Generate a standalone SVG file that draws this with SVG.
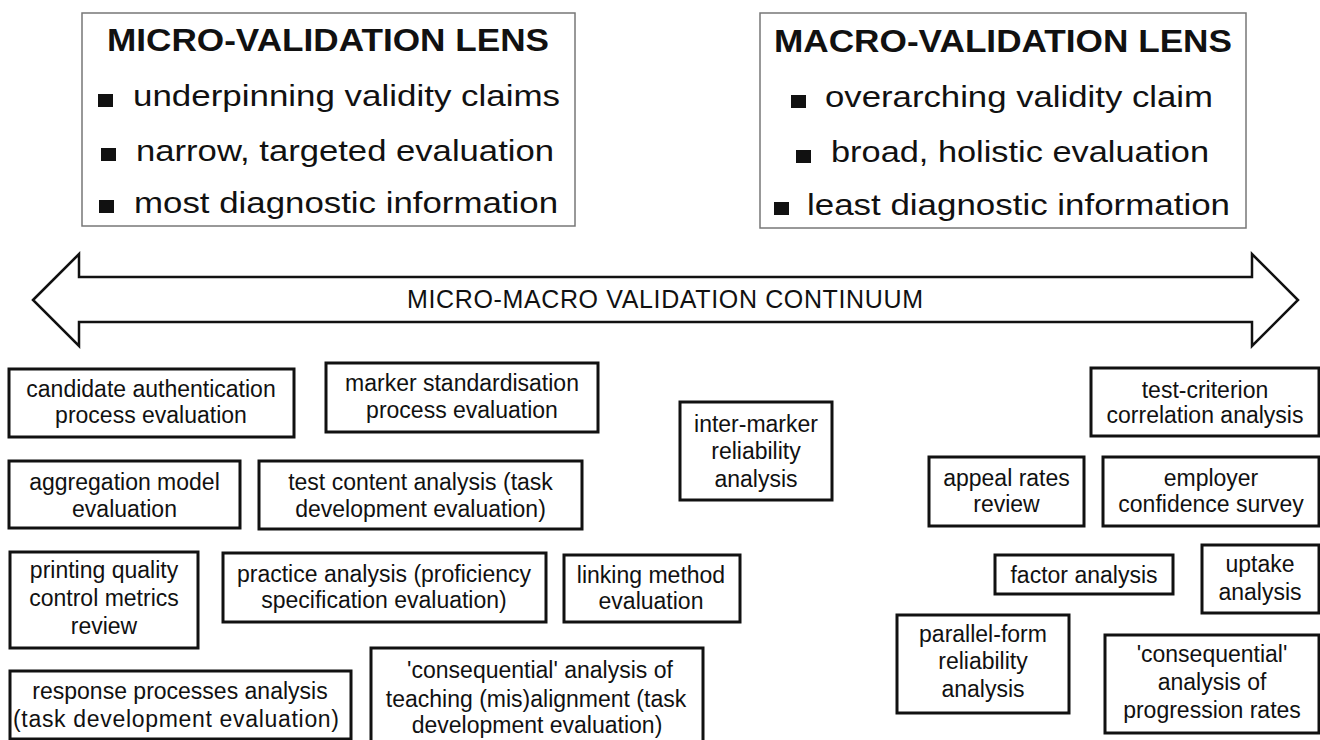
<svg xmlns="http://www.w3.org/2000/svg" width="1320" height="740" viewBox="0 0 1320 740">
<style>
.lens{fill:#fff;stroke:#777;stroke-width:1.5}
.box{fill:#fff;stroke:#111;stroke-width:3}
.t{font-family:"Liberation Sans",Arial,sans-serif;fill:#111}
.title{font-size:31px;font-weight:bold}
.bul{font-size:30px}
.lbl{font-size:23px;text-anchor:middle}
.sq{fill:#111}
.arrow{fill:#fff;stroke:#111;stroke-width:2.5;stroke-linejoin:miter}
</style>
<rect width="1320" height="740" fill="#fff"/>

<g id="micro-lens">
<rect class="lens" x="82" y="13" width="493" height="213"/>
<text class="t title" x="107" y="51" textLength="442" lengthAdjust="spacingAndGlyphs">MICRO-VALIDATION LENS</text>
<rect class="sq" x="98" y="94" width="15" height="13"/>
<text class="t bul" x="133" y="106" textLength="427" lengthAdjust="spacingAndGlyphs">underpinning validity claims</text>
<rect class="sq" x="101" y="148" width="15" height="13"/>
<text class="t bul" x="136" y="161" textLength="418" lengthAdjust="spacingAndGlyphs">narrow, targeted evaluation</text>
<rect class="sq" x="99" y="200" width="15" height="13"/>
<text class="t bul" x="134" y="213" textLength="424" lengthAdjust="spacingAndGlyphs">most diagnostic information</text>
</g>

<g id="macro-lens">
<rect class="lens" x="760" y="13" width="486" height="215"/>
<text class="t title" x="774" y="52" textLength="458" lengthAdjust="spacingAndGlyphs">MACRO-VALIDATION LENS</text>
<rect class="sq" x="791" y="95" width="15" height="13"/>
<text class="t bul" x="825" y="107" textLength="388" lengthAdjust="spacingAndGlyphs">overarching validity claim</text>
<rect class="sq" x="796" y="150" width="15" height="13"/>
<text class="t bul" x="831" y="162" textLength="378" lengthAdjust="spacingAndGlyphs">broad, holistic evaluation</text>
<rect class="sq" x="774" y="202" width="15" height="13"/>
<text class="t bul" x="807" y="215" textLength="423" lengthAdjust="spacingAndGlyphs">least diagnostic information</text>
</g>

<g id="connectors">
<polygon class="arrow" points="33,300 79,254 79,277 1252,277 1252,254 1298,300 1252,346 1252,322 79,322 79,346"/>
<text class="t" x="407" y="308" font-size="25" textLength="516" lengthAdjust="spacing" fill="#222">MICRO-MACRO VALIDATION CONTINUUM</text>
</g>

<g id="candidate">
<rect class="box" x="9" y="369" width="285" height="68"/>
<text class="t lbl" x="151" y="397">candidate authentication</text>
<text class="t lbl" x="151" y="423">process evaluation</text>
</g>
<g id="marker">
<rect class="box" x="326" y="363" width="272" height="69"/>
<text class="t lbl" x="462" y="391">marker standardisation</text>
<text class="t lbl" x="462" y="418">process evaluation</text>
</g>
<g id="aggregation">
<rect class="box" x="9" y="461" width="231" height="67"/>
<text class="t lbl" x="124.5" y="490">aggregation model</text>
<text class="t lbl" x="124.5" y="517">evaluation</text>
</g>
<g id="test-content">
<rect class="box" x="259" y="461" width="323" height="68"/>
<text class="t lbl" x="420.5" y="490">test content analysis (task</text>
<text class="t lbl" x="420.5" y="517">development evaluation)</text>
</g>
<g id="printing">
<rect class="box" x="10" y="552" width="188" height="96"/>
<text class="t lbl" x="104" y="578">printing quality</text>
<text class="t lbl" x="104" y="606">control metrics</text>
<text class="t lbl" x="104" y="634">review</text>
</g>
<g id="practice">
<rect class="box" x="223" y="553" width="323" height="69"/>
<text class="t lbl" x="384" y="582">practice analysis (proficiency</text>
<text class="t lbl" x="384" y="608">specification evaluation)</text>
</g>
<g id="linking">
<rect class="box" x="564" y="555" width="176" height="67"/>
<text class="t lbl" x="651" y="583">linking method</text>
<text class="t lbl" x="651" y="609">evaluation</text>
</g>
<g id="response">
<rect class="box" x="10" y="671" width="341" height="68"/>
<text class="t lbl" x="180" y="699">response processes analysis</text>
<text class="t lbl" x="176" y="727" textLength="326" lengthAdjust="spacing">(task development evaluation)</text>
</g>
<g id="consequential-teaching">
<rect class="box" x="371" y="648" width="332" height="100"/>
<text class="t lbl" x="540" y="678">'consequential' analysis of</text>
<text class="t lbl" x="536" y="707">teaching (mis)alignment (task</text>
<text class="t lbl" x="537" y="733">development evaluation)</text>
</g>
<g id="inter-marker">
<rect class="box" x="680" y="402" width="152" height="98"/>
<text class="t lbl" x="756" y="432">inter-marker</text>
<text class="t lbl" x="756" y="459">reliability</text>
<text class="t lbl" x="756" y="487">analysis</text>
</g>
<g id="test-criterion">
<rect class="box" x="1091" y="368" width="228" height="68"/>
<text class="t lbl" x="1205" y="398">test-criterion</text>
<text class="t lbl" x="1205" y="423">correlation analysis</text>
</g>
<g id="appeal">
<rect class="box" x="929" y="457" width="155" height="69"/>
<text class="t lbl" x="1006.5" y="486">appeal rates</text>
<text class="t lbl" x="1006.5" y="512">review</text>
</g>
<g id="employer">
<rect class="box" x="1103" y="457" width="216" height="69"/>
<text class="t lbl" x="1211" y="486">employer</text>
<text class="t lbl" x="1211" y="512">confidence survey</text>
</g>
<g id="factor">
<rect class="box" x="995" y="555" width="178" height="39"/>
<text class="t lbl" x="1084" y="583">factor analysis</text>
</g>
<g id="uptake">
<rect class="box" x="1202" y="545" width="117" height="68"/>
<text class="t lbl" x="1260" y="572">uptake</text>
<text class="t lbl" x="1260" y="600">analysis</text>
</g>
<g id="parallel-form">
<rect class="box" x="897" y="615" width="172" height="98"/>
<text class="t lbl" x="983" y="642">parallel-form</text>
<text class="t lbl" x="983" y="669">reliability</text>
<text class="t lbl" x="983" y="697">analysis</text>
</g>
<g id="consequential-progression">
<rect class="box" x="1105" y="635" width="214" height="98"/>
<text class="t lbl" x="1212" y="662">'consequential'</text>
<text class="t lbl" x="1212" y="690">analysis of</text>
<text class="t lbl" x="1212" y="718">progression rates</text>
</g>
</svg>
